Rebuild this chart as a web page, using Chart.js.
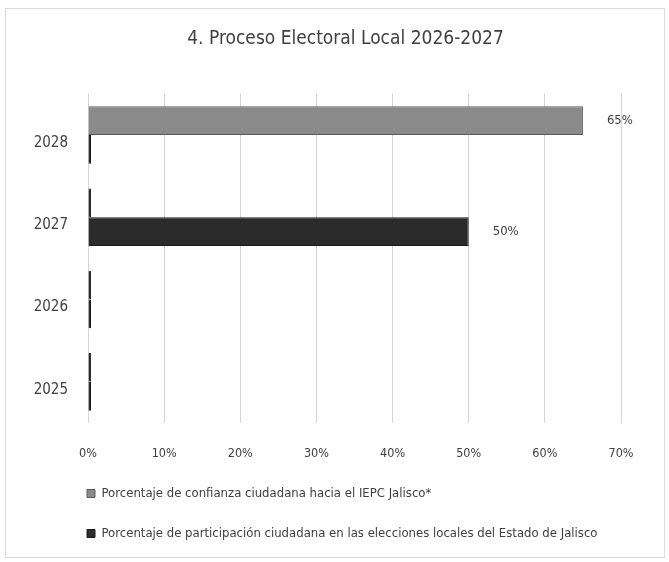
<!DOCTYPE html>
<html>
<head>
<meta charset="utf-8">
<script src="https://cdn.jsdelivr.net/npm/chart.js@4.4.1/dist/chart.umd.min.js"></script>
<style>
  html, body { margin: 0; padding: 0; background: #ffffff; }
  #wrap { position: relative; width: 669px; height: 562px; }
  #frame { position: absolute; left: 5px; top: 8px; width: 660px; height: 550px; border: 1px solid #d9d9d9; box-sizing: border-box; }
  canvas { position: absolute; left: 0; top: 0; }
</style>
</head>
<body>
<div id="wrap">
  <div id="frame"></div>
  <canvas id="c" width="669" height="562"></canvas>
</div>
<script>
const chartTitle = '4. Proceso Electoral Local 2026-2027';
const categories = ['2028', '2027', '2026', '2025'];
const seriesNames = [
  'Porcentaje de confianza ciudadana hacia el IEPC Jalisco*',
  'Porcentaje de participación ciudadana en las elecciones locales del Estado de Jalisco'
];
const confianzaValues = [65, 0, 0, 0];
const participacionValues = [0, 50, 0, 0];
const xTickValues = [0, 10, 20, 30, 40, 50, 60, 70];

const FONT = "'Liberation Sans Narrow', 'DejaVu Sans Condensed', 'Liberation Sans', sans-serif";
const GRAY = '#8a8a8a';
const DARK = '#2b2b2b';

const zeroColor = (vals, c) => vals.map(v => v > 0 ? c : DARK);

const valueLabels = {
  id: 'valueLabels',
  afterDatasetsDraw(chart) {
    const ctx = chart.ctx;
    ctx.save();
    ctx.font = '13px ' + FONT;
    ctx.fillStyle = '#404040';
    ctx.textBaseline = 'middle';
    ctx.textAlign = 'left';
    chart.data.datasets.forEach((ds, di) => {
      const meta = chart.getDatasetMeta(di);
      meta.data.forEach((bar, i) => {
        const v = ds.data[i];
        if (v > 0) ctx.fillText(v + '%', bar.x + 24, bar.y);
      });
    });
    ctx.restore();
  }
};

const boxShift = {
  id: 'boxShift',
  afterLayout(chart) {
    const lg = chart.legend;
    if (lg) { lg.left += 50; lg.right += 50; }
    const tt = chart.titleBlock;
    if (tt) { tt.left += 30; tt.right += 30; }
  }
};

new Chart(document.getElementById('c'), {
  type: 'bar',
  data: {
    labels: categories,
    datasets: [
      {
        label: seriesNames[0],
        data: confianzaValues,
        backgroundColor: zeroColor(confianzaValues, GRAY),
        borderColor: zeroColor(confianzaValues, '#5a5a5a'),
        borderWidth: 1,
        borderSkipped: 'left',
        minBarLength: 3
      },
      {
        label: seriesNames[1],
        data: participacionValues,
        backgroundColor: zeroColor(participacionValues, DARK),
        borderColor: '#1a1a1a',
        borderWidth: 1,
        borderSkipped: 'left',
        minBarLength: 3
      }
    ]
  },
  options: {
    indexAxis: 'y',
    responsive: false,
    animation: false,
    devicePixelRatio: 1,
    categoryPercentage: 0.7,
    barPercentage: 1.0,
    layout: { padding: { top: 8, left: 10, right: 48, bottom: 12 } },
    scales: {
      x: {
        min: 0,
        max: 70,
        afterBuildTicks(scale) { scale.ticks = xTickValues.map(v => ({ value: v })); },
        ticks: {
          callback: v => v + '%',
          color: '#404040',
          font: { family: FONT, size: 12.5 },
          padding: 23
        },
        grid: { color: '#d4d4d4', drawTicks: false },
        border: { display: false },
        afterFit(scale) { scale.height = 37; }
      },
      y: {
        ticks: {
          color: '#404040',
          font: { family: FONT, size: 15 },
          padding: 20,
          labelOffset: 8
        },
        grid: { display: false, drawTicks: false },
        border: { display: false },
        afterFit(scale) { scale.width = 78; }
      }
    },
    plugins: {
      title: {
        display: true,
        text: chartTitle,
        color: '#404040',
        font: { family: FONT, size: 19, weight: 'normal' },
        padding: { top: 20, bottom: 43 }
      },
      legend: {
        position: 'bottom',
        align: 'start',
        labels: {
          boxWidth: 8,
          boxHeight: 8,
          padding: 27,
          color: '#404040',
          font: { family: FONT, size: 13 }
        }
      },
      tooltip: { enabled: false }
    }
  },
  plugins: [valueLabels, boxShift]
});
</script>
</body>
</html>
